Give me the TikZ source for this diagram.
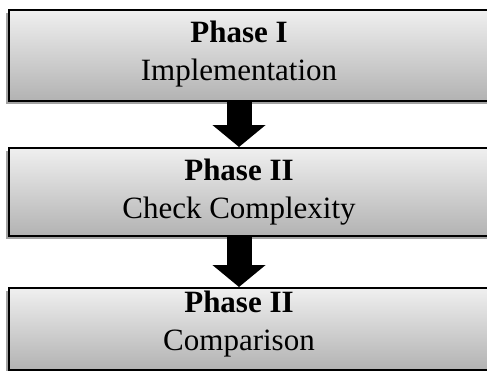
\documentclass[tikz,border=0pt]{standalone}
\usepackage{fontspec}
\setmainfont{Liberation Serif}
\usetikzlibrary{arrows.meta,positioning,shadows}
\tikzset{phasebox/.style={draw, line width=1.5pt, inner sep=0pt, minimum width=540pt, minimum height=#1, top color=black!6, bottom color=black!30, drop shadow={shadow xshift=-3pt, shadow yshift=-3pt, fill=black!45, opacity=0.8}}}
\tikzset{phasetext/.style={align=center, font=\fontsize{31}{38}\selectfont}}
\tikzset{blockarr/.style={draw, line width=25pt, -{Triangle[width=52pt, length=22pt]}}}

\begin{document}
\begin{tikzpicture}[x=1pt, y=-1pt]
        \useasboundingbox (0,0) rectangle (487,370);
        \clip (0,0) rectangle (487,370);

        \node[phasebox=91pt, anchor=north west] (B1) at (8,9){};
        \node[phasebox=88pt, anchor=north west] (B2) at (8,147){};
        \node[phasebox=82pt, anchor=north west] (B3) at (8,287){};

        \node[phasetext] (P1) at (239,54){\textbf{Phase I}\\Implementation};
        \node[phasetext] (P2) at (239,192){\textbf{Phase II}\\Check Complexity};
        \node[phasetext] (P3) at (239,324){\textbf{Phase II}\\Comparison};

        \draw[blockarr] (B1.south -| P1) -- (B2.north -| P1);
        \draw[blockarr] (B2.south -| P2) -- (B3.north -| P2);
    \end{tikzpicture}
\end{document}
